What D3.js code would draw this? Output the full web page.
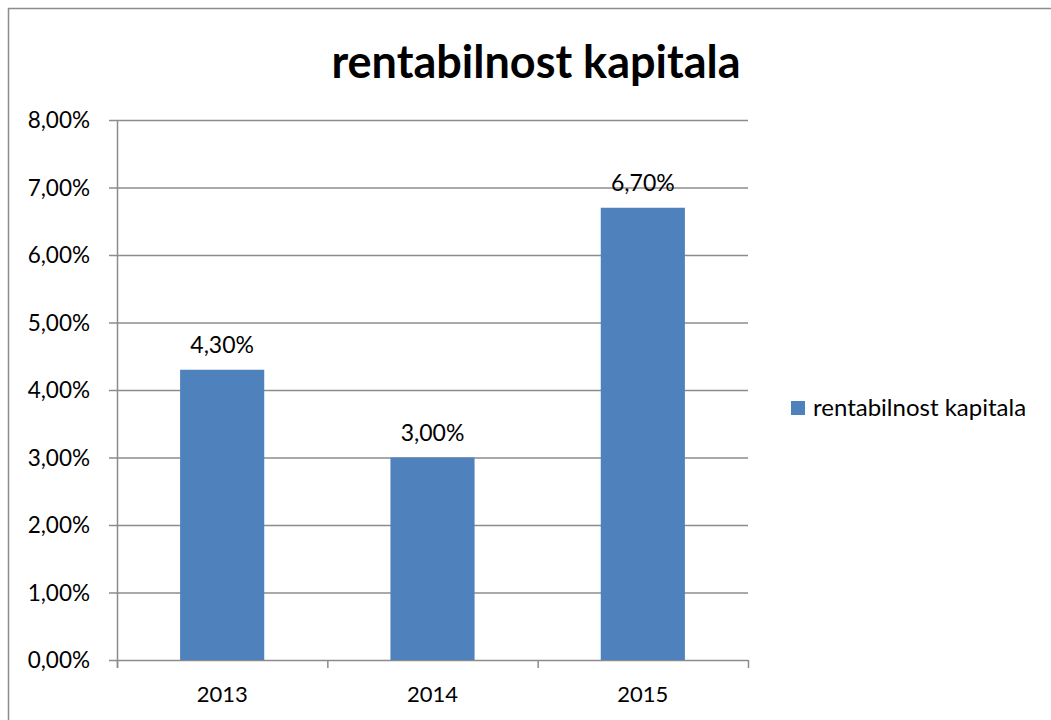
<!DOCTYPE html>
<html>
<head>
<meta charset="utf-8">
<script src="https://cdn.jsdelivr.net/npm/d3@7"></script>
<style>
  body { margin: 0; background: #fff; }
  svg { font-family: Lato, "Open Sans", sans-serif; }
</style>
</head>
<body>
<svg id="chart"></svg>
<script>
const years = ["2013", "2014", "2015"];
const values = [4.3, 3.0, 6.7];
const yTicks = [0, 1, 2, 3, 4, 5, 6, 7, 8];
const seriesName = "rentabilnost kapitala";

const width = 1051, height = 720;
const margin = { top: 120, left: 117, right: 303, bottom: 60 };
const plotW = 748 - margin.left;
const plotH = 660 - margin.top;

const svg = d3.select("#chart").attr("width", width).attr("height", height);

// outer frame
svg.append("rect")
  .attr("x", 8.5).attr("y", 8.5)
  .attr("width", width).attr("height", height)
  .attr("fill", "none").attr("stroke", "#8c8c8c").attr("stroke-width", 1.5);

const fmt = v => v.toFixed(2).replace(".", ",") + "%";

const x = d3.scaleBand().domain(years).range([0, plotW]).paddingInner(0.6).paddingOuter(0.3);
const y = d3.scaleLinear().domain([0, 8]).range([plotH, 0]);

const g = svg.append("g").attr("transform", `translate(${margin.left},${margin.top})`);

// gridlines
g.selectAll("line.grid").data(yTicks).enter().append("line")
  .attr("class", "grid")
  .attr("x1", -8).attr("x2", plotW)
  .attr("y1", d => y(d) + 0.5).attr("y2", d => y(d) + 0.5)
  .attr("stroke", "#8c8c8c").attr("stroke-width", 1.5);

// y axis labels
g.selectAll("text.ytick").data(yTicks).enter().append("text")
  .attr("x", -27).attr("y", d => y(d) + 8)
  .attr("text-anchor", "end")
  .style("font-size", "22.5px")
  .text(d => fmt(d));

// y axis line
g.append("line")
  .attr("x1", 0.5).attr("x2", 0.5).attr("y1", 0).attr("y2", plotH + 8)
  .attr("stroke", "#8c8c8c").attr("stroke-width", 1.5);

// x category ticks
const bandStep = plotW / years.length;
g.selectAll("line.xtick").data(d3.range(years.length + 1)).enter().append("line")
  .attr("x1", d => d * bandStep + 0.5).attr("x2", d => d * bandStep + 0.5)
  .attr("y1", plotH).attr("y2", plotH + 8)
  .attr("stroke", "#8c8c8c").attr("stroke-width", 1.5);

g.selectAll("text.xlab").data(years).enter().append("text")
  .attr("x", d => x(d) + x.bandwidth() / 2)
  .attr("y", plotH + 42)
  .attr("text-anchor", "middle")
  .style("font-size", "22px")
  .text(d => d);

// bars
g.selectAll("rect.bar").data(years).enter().append("rect")
  .attr("x", d => x(d))
  .attr("y", (d, i) => y(values[i]))
  .attr("width", x.bandwidth())
  .attr("height", (d, i) => plotH - y(values[i]))
  .attr("fill", "#4f81bd");

g.selectAll("text.val").data(years).enter().append("text")
  .attr("x", d => x(d) + x.bandwidth() / 2)
  .attr("y", (d, i) => y(values[i]) - 17)
  .attr("text-anchor", "middle")
  .style("font-size", "23px")
  .text((d, i) => fmt(values[i]));

// title
svg.append("text")
  .attr("x", 536).attr("y", 78)
  .attr("text-anchor", "middle")
  .style("font-size", "45px").style("font-weight", "bold")
  .text(seriesName);

// legend
const legend = svg.append("g").attr("transform", "translate(791,401)");
legend.append("rect").attr("width", 14).attr("height", 14).attr("fill", "#4f81bd");
legend.append("text").attr("x", 22).attr("y", 15).style("font-size", "24px").text(seriesName);
</script>
</body>
</html>
